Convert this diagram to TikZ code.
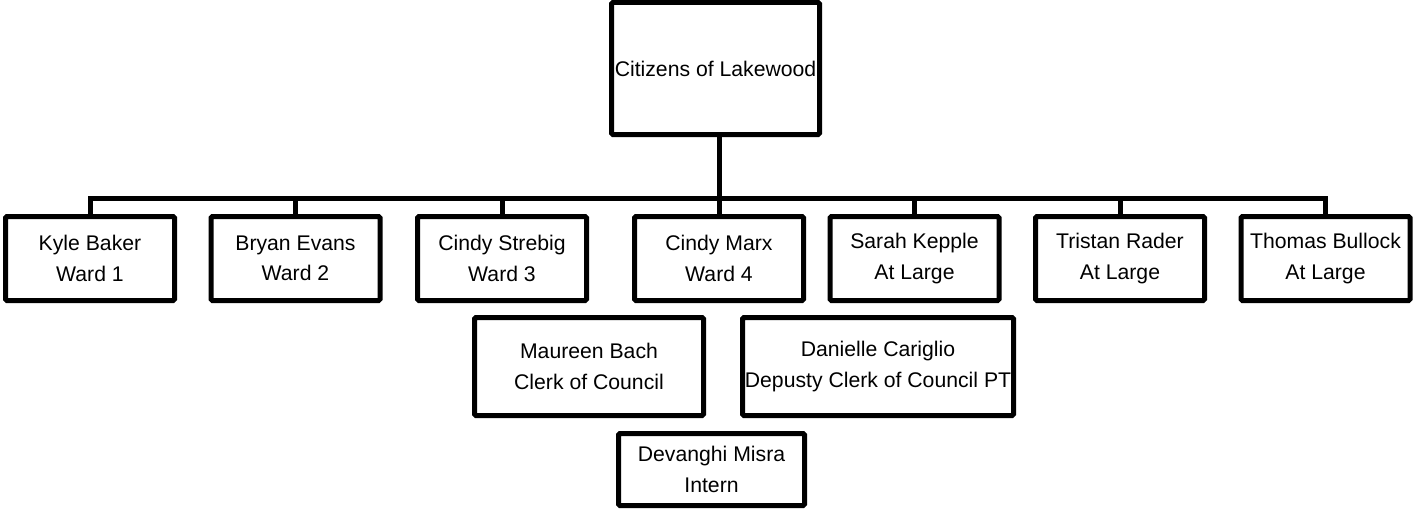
\documentclass[tikz,border=0pt]{standalone}
\usepackage{fontspec}
\setmainfont{Liberation Sans}
\begin{document}
\begin{tikzpicture}[x=0.75pt,y=-0.75pt,
  box/.style={draw=black,line width=3.75pt,rounded corners=1pt,fill=white,
    inner sep=0pt,align=center,font=\fontsize{15.9pt}{22.7pt}\selectfont},
  member/.style={box,minimum width=169*0.75pt,minimum height=84*0.75pt},
  wire/.style={draw=black,line width=3.75pt}]
% canvas
\path[fill=white] (0,0) rectangle (1413,510);
\useasboundingbox (0,0) rectangle (1413,510);

% top of the chart
\node[box,minimum width=208*0.75pt,minimum height=132*0.75pt] (top) at (715.5,68.5) {Citizens of Lakewood};

% council members
\node[member] (c1) at (90,258.5)   {Kyle Baker\\Ward 1};
\node[member] (c2) at (295.5,258.5) {Bryan Evans\\Ward 2};
\node[member] (c3) at (502,258.5)  {Cindy Strebig\\Ward 3};
\node[member] (c4) at (719,258.5)  {Cindy Marx\\Ward 4};
\node[member] (c5) at (914.5,258.5) {Sarah Kepple\\At Large};
\node[member] (c6) at (1120,258.5) {Tristan Rader\\At Large};
\node[member] (c7) at (1325.5,258.5) {Thomas Bullock\\At Large};

% staff
\node[box,minimum width=229*0.75pt,minimum height=98*0.75pt] (clerk) at (589,366.5) {Maureen Bach\\Clerk of Council};
\node[box,minimum width=271*0.75pt,minimum height=98*0.75pt] (deputy) at (878,366.5) {Danielle Cariglio\\Depusty Clerk of Council PT};
\node[box,minimum width=186*0.75pt,minimum height=72*0.75pt] (intern) at (711.5,469.5) {Devanghi Misra\\Intern};

% connectors
\coordinate (bus) at (0,198.5);
\draw[wire] (c4.north |- top.south) -- (c4.north);
\draw[wire] (c1.north) -- (c1.north |- bus) -- (c7.north |- bus) -- (c7.north);
\foreach \n in {c2,c3,c5,c6}
  \draw[wire] (\n.north) -- (\n.north |- bus);
\end{tikzpicture}
\end{document}
